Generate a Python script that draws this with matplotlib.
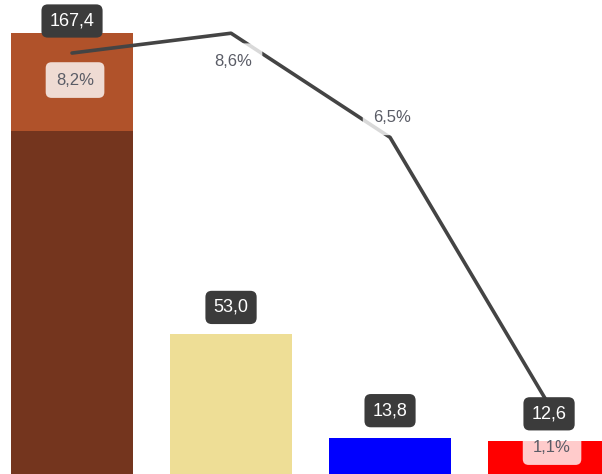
import matplotlib
matplotlib.use("Agg")
import matplotlib.pyplot as plt

plt.rcParams['font.family'] = ['Liberation Sans', 'DejaVu Sans']

# Bar values (first bar is split into two stacked parts)
base_values = [130.3, 53.0, 13.8, 12.6]
top_values = [37.1, 0.0, 0.0, 0.0]
totals = [167.4, 53.0, 13.8, 12.6]
# Percentage series drawn as a line on the secondary axis
shares = [8.2, 8.6, 6.5, 1.1]

base_colors = ['#74351E', '#EEDE96', '#0000FF', '#FF0000']
top_color = '#B0522A'


def fmt(v, suffix=''):
    return f"{v:.1f}".replace('.', ',') + suffix


fig = plt.figure(figsize=(6.02, 4.74), dpi=100)
ax = fig.add_axes([0, 0, 1, 1])
ax.set_xlim(-0.453, 3.333)
ax.set_ylim(0, 180)
ax.axis('off')

x = list(range(len(totals)))
ax.bar(x, base_values, width=0.767, color=base_colors, zorder=1)
ax.bar(x, top_values, bottom=base_values, width=0.767, color=top_color, zorder=1)

ax2 = ax.twinx()
ax2.set_ylim(-0.29, 9.27)
ax2.axis('off')
ax2.plot(x, shares, color='#444444', lw=2.6, solid_joinstyle='round',
         solid_capstyle='round', zorder=2)

# Value labels above the bars, kept inside the top edge
fig_h = fig.get_size_inches()[1] * fig.dpi
for xi, t in zip(x, totals):
    ypx = ax.transData.transform((xi, t))[1]
    off = min(27, (fig_h - 21) - ypx)
    ax2.annotate(fmt(t), xy=(xi, t), xycoords=ax.transData,
                 xytext=(0, off), textcoords='offset pixels',
                 ha='center', va='center', fontsize=13, color='white',
                 zorder=5,
                 bbox=dict(boxstyle='round,pad=0.45,rounding_size=0.35',
                           fc='#3B3B3B', ec='none'))

# Percentage labels next to the line points
pct_offsets = [(3, -27), (2, -28), (2, 20), (3, -42)]
for xi, s, (dx, dy) in zip(x, shares, pct_offsets):
    ax2.annotate(fmt(s, '%'), xy=(xi, s), xytext=(dx, dy),
                 textcoords='offset pixels', ha='center', va='center',
                 fontsize=12, color='#5A5C66', zorder=4,
                 bbox=dict(boxstyle='round,pad=0.62,rounding_size=0.35',
                           fc='white', ec='none', alpha=0.8))

fig.savefig('out.png', dpi=100)
